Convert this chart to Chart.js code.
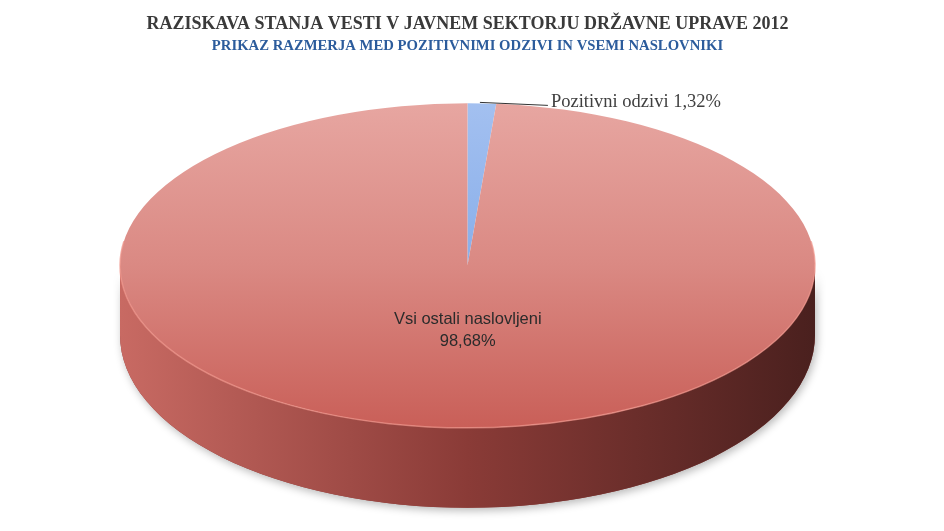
<!DOCTYPE html>
<html>
<head>
<meta charset="utf-8">
<script src="https://cdn.jsdelivr.net/npm/chart.js@4.4.1/dist/chart.umd.min.js"></script>
<style>
  html, body { margin: 0; padding: 0; background: #fff; }
  #wrap { width: 944px; height: 531px; }
</style>
</head>
<body>
<div id="wrap"><canvas id="pie"></canvas></div>
<script>
// podatki
const labels = ['Pozitivni odzivi', 'Vsi ostali naslovljeni'];
const values = [1.32, 98.68];

// barve zgornje ploskve (svetla -> temna) in stene
const topColors = [['#a3c0f0', '#6f9de3'], ['#e7a6a1', '#da8983', '#c95f58']];
const wallColors = [['#7d9ed6', '#4a6fa8'], ['#c86a63', '#8a3b37', '#4a201e']];

const TILT = 0.467;   // razmerje ry / rx
const DEPTH = 0.2;    // debelina glede na rx

function fmt(v) {
    return v.toFixed(2).replace('.', ',') + '%';
}

function ellipseGeom(chart) {
    const ca = chart.chartArea;
    const rx = (ca.right - ca.left) / 2;
    const ry = rx * TILT;
    return { cx: (ca.left + ca.right) / 2, cy: ca.top + ry, rx, ry, depth: rx * DEPTH };
}

// vidni del stene: koti med 0 in PI
function frontRanges(a, b) {
    const out = [];
    for (const k of [-2 * Math.PI, 0, 2 * Math.PI]) {
        const s = Math.max(a + k, 0), e = Math.min(b + k, Math.PI);
        if (e > s) out.push([s, e]);
    }
    return out;
}

const pie3d = {
    id: 'pie3d',
    beforeDatasetsDraw(chart) {
        const ctx = chart.ctx;
        const meta = chart.getDatasetMeta(0);
        const g = ellipseGeom(chart);
        const ry2 = g.ry + g.rx * 0.03;

        // senca pod diskom
        ctx.save();
        ctx.shadowColor = 'rgba(0,0,0,0.28)';
        ctx.shadowBlur = 8;
        ctx.shadowOffsetX = 2;
        ctx.shadowOffsetY = 3;
        ctx.beginPath();
        ctx.ellipse(g.cx, g.cy + g.depth, g.rx, ry2, 0, 0, Math.PI);
        ctx.lineTo(g.cx - g.rx, g.cy);
        ctx.ellipse(g.cx, g.cy, g.rx, g.ry, 0, Math.PI, 0, true);
        ctx.closePath();
        ctx.fillStyle = '#8e3d39';
        ctx.fill();
        ctx.restore();

        // stene rezin
        meta.data.forEach((arc, i) => {
            const wc = wallColors[i];
            const grad = ctx.createLinearGradient(g.cx - g.rx, 0, g.cx + g.rx, 0);
            wc.forEach((col, k) => grad.addColorStop(k / (wc.length - 1), col));
            frontRanges(arc.startAngle, arc.endAngle).forEach(([s, e]) => {
                ctx.beginPath();
                ctx.ellipse(g.cx, g.cy, g.rx, g.ry, 0, s, e);
                ctx.lineTo(g.cx + g.rx * Math.cos(e), g.cy + g.depth + ry2 * Math.sin(e));
                ctx.ellipse(g.cx, g.cy + g.depth, g.rx, ry2, 0, e, s, true);
                ctx.closePath();
                ctx.fillStyle = grad;
                ctx.fill();
            });
        });

        // zgornja ploskev: stisnjena torta
        const a0 = meta.data[0];
        const r0 = a0.outerRadius;
        ctx.save();
        ctx.translate(g.cx, g.cy);
        ctx.scale(g.rx / r0, g.ry / r0);
        ctx.translate(-a0.x, -a0.y);
    },
    afterDatasetsDraw(chart) {
        const ctx = chart.ctx;
        ctx.restore();
        const g = ellipseGeom(chart);
        // svetel rob spredaj
        ctx.save();
        ctx.beginPath();
        ctx.ellipse(g.cx, g.cy, g.rx, g.ry, 0, -0.15, Math.PI + 0.15);
        ctx.strokeStyle = 'rgba(240,150,140,0.7)';
        ctx.lineWidth = 1.5;
        ctx.stroke();
        ctx.restore();
    },
    afterDraw(chart) {
        const ctx = chart.ctx;
        const meta = chart.getDatasetMeta(0);
        const g = ellipseGeom(chart);
        const total = values.reduce((s, v) => s + v, 0);
        ctx.save();
        meta.data.forEach((arc, i) => {
            const m = (arc.startAngle + arc.endAngle) / 2;
            const share = values[i] / total;
            if (share < 0.05) {
                const px = g.cx + g.rx * Math.cos(m);
                const py = g.cy + g.ry * Math.sin(m);
                ctx.beginPath();
                ctx.moveTo(px - 2, py - 1);
                ctx.lineTo(px + 66, py + 2);
                ctx.strokeStyle = '#333';
                ctx.lineWidth = 1;
                ctx.stroke();
                ctx.font = '18.5px "Liberation Serif", serif';
                ctx.fillStyle = '#404040';
                ctx.textAlign = 'left';
                ctx.textBaseline = 'middle';
                ctx.fillText(labels[i] + ' ' + fmt(values[i]), px + 69, py - 1);
            } else {
                const px = g.cx + g.rx * 0.4 * Math.cos(m) + 6;
                const py = g.cy + g.ry * 0.4 * Math.sin(m);
                ctx.font = '16.5px "Liberation Sans", sans-serif';
                ctx.fillStyle = '#2b2b2b';
                ctx.textAlign = 'center';
                ctx.textBaseline = 'middle';
                ctx.fillText(labels[i], px, py - 11);
                ctx.fillText(fmt(values[i]), px, py + 11);
            }
        });
        ctx.restore();
    }
};

const ctxPie = document.getElementById('pie');
ctxPie.chart = new Chart(ctxPie, {
    type: 'pie',
    data: {
        labels: labels,
        datasets: [{
            data: values,
            borderWidth: 0,
            clip: false,
            backgroundColor: (c) => {
                const ca = c.chart.chartArea;
                if (!ca) return topColors[c.dataIndex][0];
                const r = Math.min(ca.right - ca.left, ca.bottom - ca.top) / 2;
                const cy = (ca.top + ca.bottom) / 2;
                const cols = topColors[c.dataIndex];
                const grad = c.chart.ctx.createLinearGradient(0, cy - r, 0, cy + r);
                cols.forEach((col, k) => grad.addColorStop(k / (cols.length - 1), col));
                return grad;
            }
        }]
    },
    options: {
        responsive: true,
        maintainAspectRatio: false,
        animation: false,
        events: [],
        layout: { padding: { left: 120, right: 129, top: 0, bottom: 23 } },
        plugins: {
            legend: { display: false },
            tooltip: { enabled: false },
            title: {
                display: true,
                text: 'RAZISKAVA STANJA VESTI V JAVNEM SEKTORJU DRŽAVNE UPRAVE 2012',
                color: '#3a3a3a',
                font: { family: '"Liberation Serif", serif', size: 18, weight: 'bold' },
                padding: { top: 14, bottom: 2 }
            },
            subtitle: {
                display: true,
                text: 'PRIKAZ RAZMERJA MED POZITIVNIMI ODZIVI IN VSEMI NASLOVNIKI',
                color: '#2c5c9c',
                font: { family: '"Liberation Serif", serif', size: 14.7, weight: 'bold' },
                padding: { top: 0, bottom: 48 }
            }
        }
    },
    plugins: [pie3d]
});
</script>
</body>
</html>
